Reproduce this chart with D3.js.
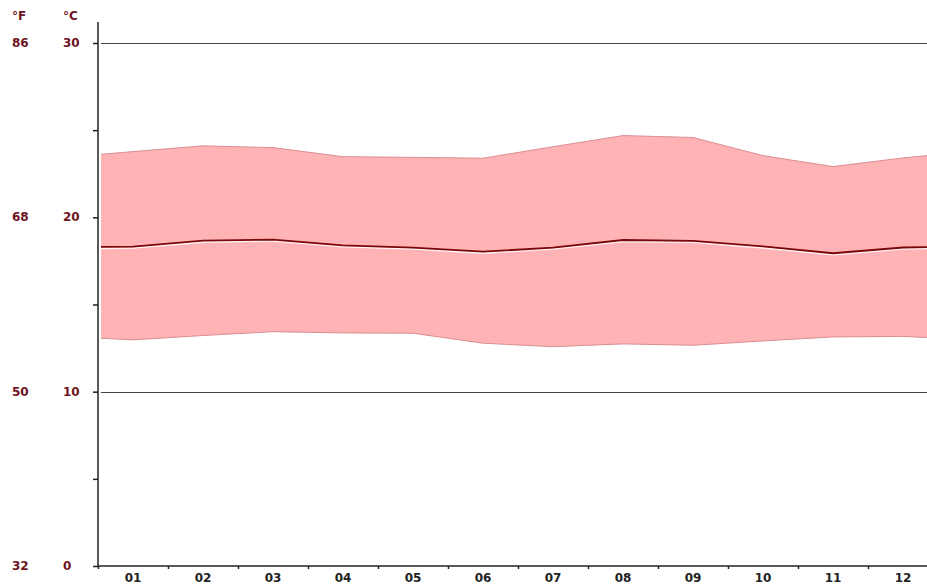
<!DOCTYPE html>
<html>
<head>
<meta charset="utf-8">
<script src="https://cdn.jsdelivr.net/npm/d3@7"></script>
<style>
  body { margin: 0; background: #fff; }
  svg { display: block; }
  .lab { font-family: "DejaVu Sans", Verdana, sans-serif; font-weight: bold; font-size: 12px; }
</style>
</head>
<body>
<div id="chart"></div>
<script>
// monthly temperatures, °C
const months = ["01","02","03","04","05","06","07","08","09","10","11","12"]
const tMax  = [23.77, 24.10, 24.00, 23.48, 23.44, 23.39, 24.05, 24.69, 24.58, 23.54, 22.91, 23.41]
const tMean = [18.32, 18.66, 18.72, 18.39, 18.26, 18.03, 18.26, 18.70, 18.65, 18.33, 17.94, 18.27]
const tMin  = [12.97, 13.22, 13.44, 13.37, 13.35, 12.78, 12.58, 12.74, 12.66, 12.91, 13.14, 13.17]
// values at the left / right edge of the plot (year wrap)
const edgeMax = 23.6, edgeMean = 18.3, edgeMin = 13.07

const celsiusTicks = [0, 10, 20, 30]
const fahrenheitLabels = ["32", "50", "68", "86"]
const minorTicks = [5, 15, 25]

const W = 927, H = 584
const svg = d3.select("#chart").append("svg").attr("width", W).attr("height", H)

const x = d3.scaleLinear().domain([0, 12]).range([98, 938])
const y = d3.scaleLinear().domain([0, 30]).range([566, 43])

// plot area starts a few px right of the axis line
svg.append("clipPath").attr("id", "plot")
  .append("rect").attr("x", 101).attr("y", 0).attr("width", W - 101).attr("height", y(0))
const plot = svg.append("g").attr("clip-path", "url(#plot)")

// points: edge, month centers, edge
const pts = [{ x: 0, hi: edgeMax, m: edgeMean, lo: edgeMin }]
months.forEach((mo, i) => pts.push({ x: i + 0.5, hi: tMax[i], m: tMean[i], lo: tMin[i] }))
pts.push({ x: 12, hi: edgeMax, m: edgeMean, lo: edgeMin })

// gridlines
plot.append("g").selectAll("line").data(celsiusTicks.filter(d => d > 0)).join("line")
  .attr("x1", x(0)).attr("x2", W)
  .attr("y1", d => Math.round(y(d)) + 0.5).attr("y2", d => Math.round(y(d)) + 0.5)
  .attr("stroke", "#444").attr("stroke-width", 1)

// band
plot.append("path").datum(pts)
  .attr("d", d3.area().x(d => x(d.x)).y0(d => y(d.lo)).y1(d => y(d.hi)))
  .attr("fill", "#ffb3b5")
plot.append("path").datum(pts)
  .attr("d", d3.line().x(d => x(d.x)).y(d => y(d.hi)))
  .attr("fill", "none").attr("stroke", "#d98f94").attr("stroke-width", 1)
plot.append("path").datum(pts)
  .attr("d", d3.line().x(d => x(d.x)).y(d => y(d.lo)))
  .attr("fill", "none").attr("stroke", "#d98f94").attr("stroke-width", 1)

// mean line with light halo under it
plot.append("path").datum(pts)
  .attr("d", d3.line().x(d => x(d.x)).y(d => y(d.m) + 1.4))
  .attr("fill", "none").attr("stroke", "#fff3f3").attr("stroke-width", 1.6)
plot.append("path").datum(pts)
  .attr("d", d3.line().x(d => x(d.x)).y(d => y(d.m)))
  .attr("fill", "none").attr("stroke", "#7a0808").attr("stroke-width", 1.8)

// y axis
const yAxis = svg.append("g").attr("transform", `translate(${x(0)},0)`)
  .call(d3.axisLeft(y).tickValues(d3.merge([celsiusTicks, minorTicks])).tickSize(5).tickFormat(""))
yAxis.select(".domain").attr("d", `M0,${y(0)}V22`)
yAxis.selectAll("path, line").attr("stroke", "#222").attr("stroke-width", 1.5)

// x axis
const xAxis = svg.append("g").attr("transform", `translate(0,${y(0)})`)
  .call(d3.axisBottom(x).tickValues(d3.range(0, 13)).tickSize(3).tickFormat(""))
xAxis.select(".domain").attr("d", `M${x(0)},0H${W}`)
xAxis.selectAll("path, line").attr("stroke", "#222").attr("stroke-width", 1.5)

svg.append("g").selectAll("text").data(months).join("text")
  .attr("class", "lab")
  .attr("x", (d, i) => x(i + 0.5)).attr("y", 582)
  .attr("text-anchor", "middle").attr("fill", "#222")
  .text(d => d)

// y labels
const red = "#6e1423"
svg.append("g").selectAll("text").data(celsiusTicks).join("text")
  .attr("class", "lab").attr("x", 63).attr("y", d => y(d) + 4)
  .attr("fill", red).text(d => d)
svg.append("g").selectAll("text").data(fahrenheitLabels).join("text")
  .attr("class", "lab").attr("x", 12).attr("y", (d, i) => y(celsiusTicks[i]) + 4)
  .attr("fill", red).text(d => d)
svg.append("text").attr("class", "lab").attr("x", 12).attr("y", 20).attr("fill", red).text("°F")
svg.append("text").attr("class", "lab").attr("x", 63).attr("y", 20).attr("fill", red).text("°C")
</script>
</body>
</html>
